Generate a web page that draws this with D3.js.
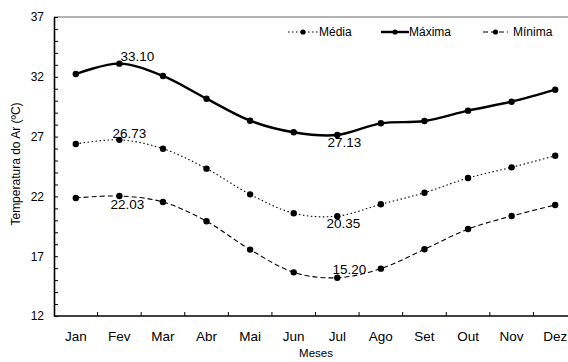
<!DOCTYPE html>
<html>
<head>
<meta charset="utf-8">
<script src="https://cdn.jsdelivr.net/npm/d3@7"></script>
<style>
  html, body { margin: 0; padding: 0; background: #fff; }
  svg { display: block; font-family: "Liberation Sans", Arial, sans-serif; }
</style>
</head>
<body>
<svg id="chart" width="568" height="362"></svg>
<script>
// Monthly air temperature (ºC)
const months = ["Jan", "Fev", "Mar", "Abr", "Mai", "Jun", "Jul", "Ago", "Set", "Out", "Nov", "Dez"];
const media  = [26.38, 26.73, 25.99, 24.32, 22.17, 20.59, 20.35, 21.34, 22.31, 23.54, 24.43, 25.40];
const maxima = [32.23, 33.10, 32.07, 30.17, 28.33, 27.36, 27.13, 28.11, 28.30, 29.17, 29.92, 30.92];
const minima = [21.87, 22.03, 21.53, 19.92, 17.55, 15.65, 15.20, 15.96, 17.58, 19.27, 20.36, 21.28];
const yTickLabels = [12, 17, 22, 27, 32, 37];

const seriesNames = ["Média", "Máxima", "Mínima"];
const seriesValues = [media, maxima, minima];

// Line styles per series
const styles = [
  { width: 1.1, dash: "1.5,2.5" },
  { width: 2.4, dash: null },
  { width: 1.1, dash: "5,3" }
];

// Value annotations: series index, month index, offset from the point
const annotations = [
  { s: 1, m: 1, dx: 18, dy: -3 },
  { s: 1, m: 6, dx: 7, dy: 12 },
  { s: 0, m: 1, dx: 10, dy: -2 },
  { s: 0, m: 6, dx: 6, dy: 12 },
  { s: 2, m: 1, dx: 8, dy: 13 },
  { s: 2, m: 6, dx: 12, dy: -4 }
];

const svg = d3.select("#chart");
const plotLeft = 54, plotTop = 17, plotBottom = 316, plotRight = 577;

const x = d3.scaleBand().domain(months).range([plotLeft, plotRight]).padding(0);
const y = d3.scaleLinear().domain([12, 37]).range([plotBottom, plotTop]);
const cx = m => x(m) + x.bandwidth() / 2;

// Top frame line
svg.append("line")
  .attr("x1", plotLeft).attr("x2", plotRight)
  .attr("y1", plotTop).attr("y2", plotTop)
  .attr("stroke", "#666").attr("stroke-width", 1);

// Y axis: a tick for every degree, labels every 5
const yAxis = d3.axisLeft(y)
  .tickValues(d3.range(12, 38, 1))
  .tickSizeInner(-4)
  .tickSizeOuter(0)
  .tickPadding(10)
  .tickFormat(d => yTickLabels.includes(d) ? d : "");
const gy = svg.append("g").attr("transform", `translate(${plotLeft},0)`).call(yAxis);
gy.select(".domain").attr("stroke", "#000").attr("stroke-width", 1.6);
gy.selectAll(".tick line").attr("stroke", "#000").attr("stroke-width", 1);
gy.selectAll(".tick text").attr("font-size", 12).attr("fill", "#000")
  .attr("font-family", "Liberation Sans, Arial, sans-serif");

// X axis: month labels centred in bands, ticks on band boundaries
const gx = svg.append("g").attr("transform", `translate(0,${plotBottom})`);
gx.append("line").attr("x1", plotLeft).attr("x2", plotRight).attr("y1", 0).attr("y2", 0)
  .attr("stroke", "#000").attr("stroke-width", 1.6);
gx.selectAll("line.tick").data(months.slice(1)).enter().append("line")
  .attr("class", "tick")
  .attr("x1", d => x(d)).attr("x2", d => x(d))
  .attr("y1", 0).attr("y2", -4)
  .attr("stroke", "#000").attr("stroke-width", 1);
gx.selectAll("text").data(months).enter().append("text")
  .attr("x", d => cx(d)).attr("y", 25)
  .attr("text-anchor", "middle")
  .attr("font-size", 13.5)
  .text(d => d);

// Axis titles
svg.append("text")
  .attr("x", 316).attr("y", 357)
  .attr("text-anchor", "middle").attr("font-size", 11.5)
  .text("Meses");
svg.append("text")
  .attr("transform", "translate(20,164) rotate(-90)")
  .attr("text-anchor", "middle").attr("font-size", 12)
  .text("Temperatura do Ar (ºC)");

// Smoothed series lines with markers
const line = d3.line()
  .x((d, i) => cx(months[i]))
  .y(d => y(d))
  .curve(d3.curveCatmullRom.alpha(0));

seriesValues.forEach((vals, si) => {
  const st = styles[si];
  svg.append("path")
    .datum(vals)
    .attr("d", line)
    .attr("fill", "none")
    .attr("stroke", "#000")
    .attr("stroke-width", st.width)
    .attr("stroke-dasharray", st.dash);
  svg.append("g").selectAll("circle").data(vals).enter().append("circle")
    .attr("cx", (d, i) => cx(months[i]))
    .attr("cy", d => y(d))
    .attr("r", 3.2)
    .attr("fill", "#000");
});

// Value labels
svg.append("g").selectAll("text").data(annotations).enter().append("text")
  .attr("x", d => cx(months[d.m]) + d.dx)
  .attr("y", d => y(seriesValues[d.s][d.m]) + d.dy)
  .attr("text-anchor", "middle")
  .attr("font-size", 13.5)
  .text(d => d3.format(".2f")(seriesValues[d.s][d.m]));

// Legend
const legendItems = [
  { s: 0, x0: 288, x1: 318, tx: 319 },
  { s: 1, x0: 381, x1: 409, tx: 409 },
  { s: 2, x0: 483, x1: 508, tx: 513 }
];
const ly = 32;
const lg = svg.append("g");
legendItems.forEach(it => {
  const st = styles[it.s];
  lg.append("line")
    .attr("x1", it.x0).attr("x2", it.x1).attr("y1", ly).attr("y2", ly)
    .attr("stroke", "#000").attr("stroke-width", st.width)
    .attr("stroke-dasharray", st.dash);
  lg.append("circle").attr("cx", (it.x0 + it.x1) / 2).attr("cy", ly).attr("r", 2.6).attr("fill", "#000");
  lg.append("text").attr("x", it.tx).attr("y", ly + 4.3)
    .attr("font-size", 12).text(seriesNames[it.s]);
});
</script>
</body>
</html>
